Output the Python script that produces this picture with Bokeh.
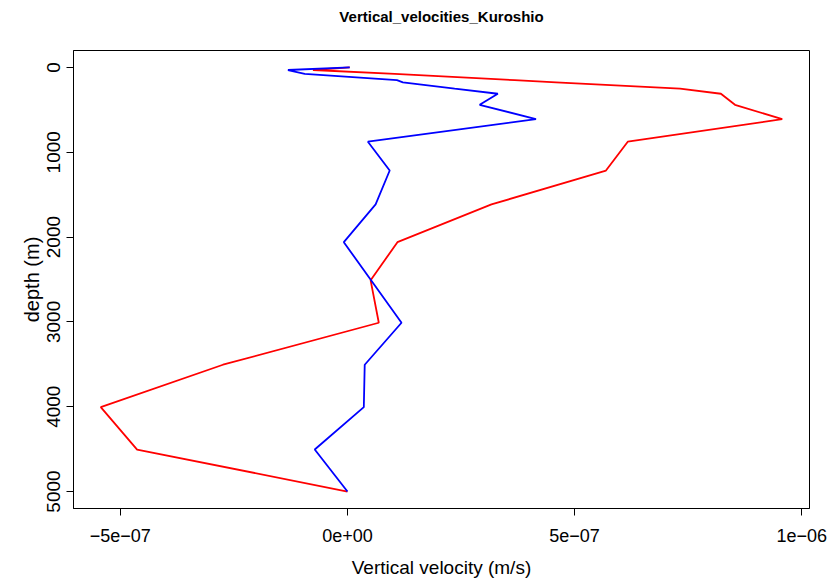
from bokeh.plotting import figure
from bokeh.models import Range1d, FixedTicker, Title
from bokeh.embed import file_html
from bokeh.resources import INLINE

# depth levels (m)
depth = [0, 30, 75, 150, 175, 250, 310, 440, 610, 875, 1215, 1615, 2060,
         2510, 3010, 3505, 4005, 4505, 5000]

# vertical velocities (m/s)
w_red = [0.5e-8, -7.6e-8, 1.04e-7, 3.68e-7, 4.59e-7, 7.32e-7, 8.22e-7, 8.53e-7,
         9.57e-7, 6.17e-7, 5.69e-7, 3.17e-7, 1.10e-7, 5.1e-8, 6.9e-8,
         -2.74e-7, -5.43e-7, -4.63e-7, 0.0]
w_blue = [0.5e-8, -1.31e-7, -9.4e-8, 1.09e-7, 1.22e-7, 2.36e-7, 3.31e-7, 2.91e-7,
          4.15e-7, 4.5e-8, 9.3e-8, 6.2e-8, -8e-9, 5.2e-8, 1.19e-7,
          3.8e-8, 3.6e-8, -7.2e-8, 0.0]

x_ticks = [-5e-07, 0.0, 5e-07, 1e-06]
x_tick_labels = ["\u22125e\u221207", "0e+00", "5e\u221207", "1e\u221206"]
y_ticks = [0, 1000, 2000, 3000, 4000, 5000]

title_text = "Vertical_velocities_Kuroshio"
x_label = "Vertical velocity (m/s)"
y_label = "depth (m)"

FONT = "Liberation Sans"

p = figure(width=830, height=581, output_backend="svg", toolbar_location=None,
           x_range=Range1d(-6.03e-7, 1.017e-6), y_range=Range1d(5200, -200),
           min_border_left=73, min_border_right=21, min_border_top=49,
           min_border_bottom=73, title=title_text)

p.title.align = "center"
p.title.text_font = FONT
p.title.text_font_size = "15px"
p.title.text_font_style = "bold"
p.title.text_color = "black"

# invisible spacer between the title and the frame
p.add_layout(Title(text=" ", text_font_size="8px"), "above")

p.grid.visible = False
p.outline_line_color = "black"
p.outline_line_width = 1
p.background_fill_color = "white"
p.border_fill_color = "white"

p.line(w_red, depth, line_color="#FF0000", line_width=1.8)
p.line(w_blue, depth, line_color="#0000FF", line_width=1.8)

for ax in (p.xaxis[0], p.yaxis[0]):
    ax.axis_line_color = "black"
    ax.major_tick_line_color = "black"
    ax.major_tick_in = 0
    ax.major_tick_out = 7
    ax.minor_tick_line_color = None
    ax.major_label_text_font = FONT
    ax.major_label_text_color = "black"
    ax.axis_label_text_font = FONT
    ax.axis_label_text_font_style = "normal"
    ax.axis_label_text_color = "black"

xa = p.xaxis[0]
xa.ticker = FixedTicker(ticks=x_ticks)
xa.major_label_overrides = dict(zip(x_ticks, x_tick_labels))
xa.major_label_text_font_size = "18px"
xa.major_label_standoff = 13
xa.axis_label = x_label
xa.axis_label_text_font_size = "19px"
xa.axis_label_standoff = 12

ya = p.yaxis[0]
ya.ticker = FixedTicker(ticks=y_ticks)
ya.major_label_orientation = "parallel"
ya.major_label_text_font_size = "19px"
ya.major_label_standoff = 6
ya.axis_label = y_label
ya.axis_label_text_font_size = "20px"
ya.axis_label_standoff = 2

open("out.html", "w").write(file_html(p, INLINE))
